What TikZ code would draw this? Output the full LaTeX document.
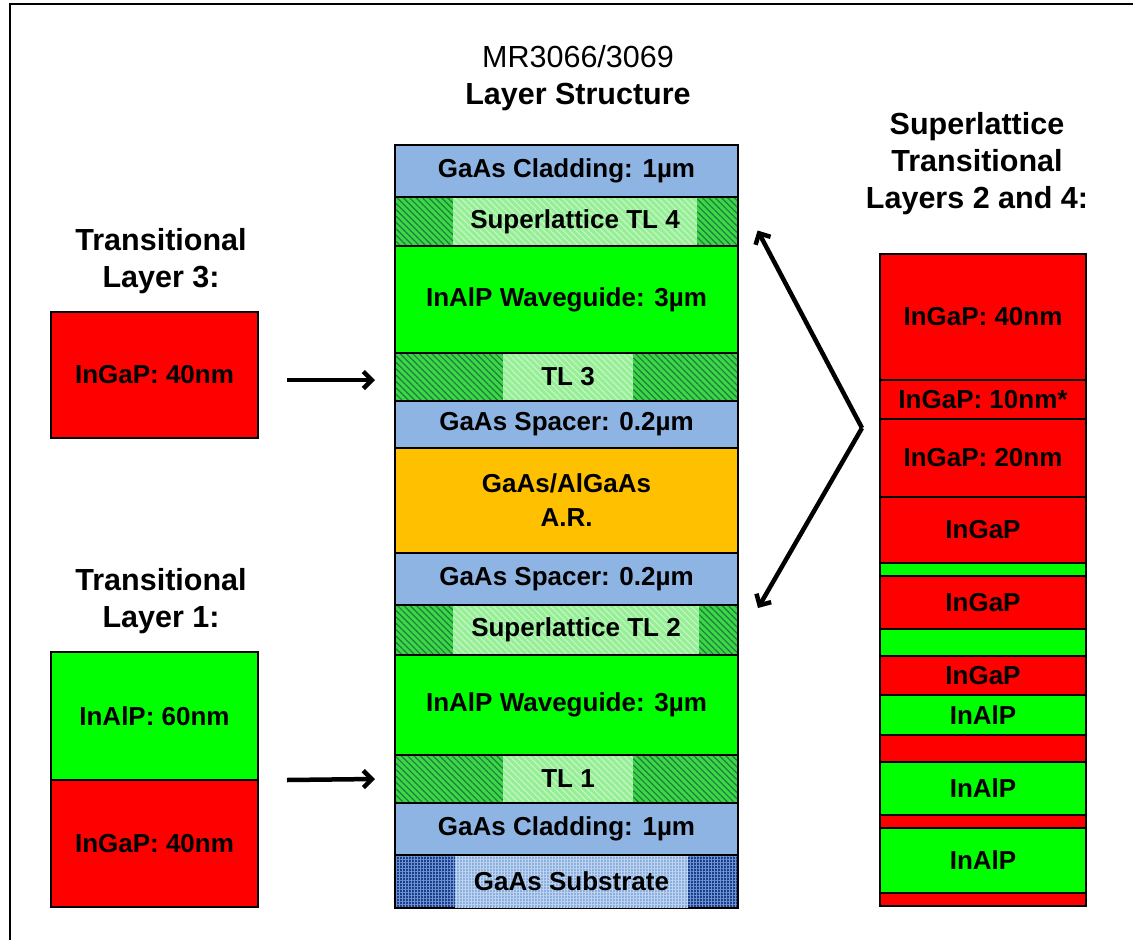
\documentclass[tikz,border=0pt]{standalone}
\usepackage{fontspec}
\setmainfont{Liberation Sans}
\usetikzlibrary{arrows.meta,patterns.meta}

\definecolor{gaasblue}{RGB}{141,180,226}
\definecolor{ingap}{RGB}{255,0,0}
\definecolor{inalp}{RGB}{0,255,0}
\definecolor{argold}{RGB}{255,192,0}
\definecolor{tlgreen}{RGB}{60,215,70}
\definecolor{tldark}{RGB}{30,125,60}
\definecolor{tllight}{RGB}{150,238,150}
\definecolor{tlline}{RGB}{195,248,195}
\definecolor{subdark}{RGB}{30,62,140}
\definecolor{subgrid}{RGB}{110,150,212}
\definecolor{sublight}{RGB}{140,176,222}
\definecolor{subline}{RGB}{190,212,240}

\newcommand{\lbl}{\bfseries\fontsize{26}{34}\selectfont}
\newcommand{\ttl}{\fontsize{30.5}{37}\selectfont}

\tikzset{
  >={Straight Barb[angle=90:12pt]},
  arr/.style = {->, line width=4.5pt},
  layer/.style = {draw, line width=2pt, minimum width=343pt, inner sep=0pt,
                  align=center, font=\lbl},
  slayer/.style = {layer, minimum width=206pt},
  gaas/.style = {fill=gaasblue},
  red/.style = {fill=ingap},
  grn/.style = {fill=inalp},
  hatch/.style = {preaction={fill=tlgreen},
                  pattern={Lines[angle=-45,distance=4.5pt,line width=1.2pt]},
                  pattern color=tldark},
  hatchin/.style = {inner sep=0pt, font=\lbl, preaction={fill=tllight},
                    pattern={Lines[angle=-45,distance=4.5pt,line width=1.2pt]},
                    pattern color=tlline},
  grid/.style = {preaction={fill=subdark},
                 pattern={Hatch[distance=3pt,line width=0.9pt]},
                 pattern color=subgrid},
  gridin/.style = {inner sep=0pt, font=\lbl, preaction={fill=sublight},
                   pattern={Hatch[distance=3pt,line width=0.9pt]},
                   pattern color=subline},
  title/.style = {align=center, font=\ttl}
}

\begin{document}
\begin{tikzpicture}[x=1pt,y=-1pt]
  \useasboundingbox (0,0) rectangle (1133,940);
  \draw[line width=2pt] (10,940) -- (10,4) -- (1133,4);

  % titles
  \node[title] (ttlmid) at (578,78) {MR3066/3069\\\bfseries Layer Structure};
  \node[title,font=\ttl\bfseries] (ttlsl) at (977,164) {Superlattice\\Transitional\\Layers 2 and 4:};
  \node[title,font=\ttl\bfseries] (ttl3) at (161,261) {Transitional\\Layer 3:};
  \node[title,font=\ttl\bfseries] (ttl1) at (161,601) {Transitional\\Layer 1:};

  % layer stack
  \node[layer,gaas,minimum height=52pt]  (clad2) at (566.5,171)   {GaAs Cladding: 1µm};
  \node[layer,hatch,minimum height=49pt] (tl4)   at (566.5,221.5) {};
  \node[hatchin,minimum width=244pt,minimum height=47pt] (tl4c) at ([xshift=8.5pt]tl4.center) {Superlattice TL 4};
  \node[layer,grn,minimum height=107pt]  (wg2)   at (566.5,299.5) {InAlP Waveguide: 3µm};
  \node[layer,hatch,minimum height=48pt] (tl3)   at (566.5,377)   {};
  \node[hatchin,minimum width=130pt,minimum height=46pt] (tl3c) at ([xshift=1.5pt]tl3.center) {TL 3};
  \node[layer,gaas,minimum height=47pt]  (sp2)   at (566.5,424.5) {GaAs Spacer: 0.2µm};
  \node[layer,fill=argold,minimum height=105pt] (ar) at (566.5,500.5) {GaAs/AlGaAs\\A.R.};
  \node[layer,gaas,minimum height=52pt]  (sp1)   at (566.5,579)   {GaAs Spacer: 0.2µm};
  \node[layer,hatch,minimum height=50pt] (tl2)   at (566.5,630)   {};
  \node[hatchin,minimum width=246pt,minimum height=48pt] (tl2c) at ([xshift=9.5pt]tl2.center) {Superlattice TL 2};
  \node[layer,grn,minimum height=100pt]  (wg1)   at (566.5,705)   {InAlP Waveguide: 3µm};
  \node[layer,hatch,minimum height=48pt] (tl1)   at (566.5,779)   {};
  \node[hatchin,minimum width=130pt,minimum height=46pt] (tl1c) at ([xshift=1.5pt]tl1.center) {TL 1};
  \node[layer,gaas,minimum height=52pt]  (clad1) at (566.5,829)   {GaAs Cladding: 1µm};
  \node[layer,grid,minimum height=53pt]  (sub)   at (566.5,881.5) {};
  \node[gridin,minimum width=233pt,minimum height=51pt] (subc) at ([xshift=5pt]sub.center) {GaAs Substrate};

  % transitional layers 3 and 1
  \node[layer,red,minimum width=207pt,minimum height=126pt] (l3)  at (154.5,375)   {InGaP: 40nm};
  \node[layer,grn,minimum width=207pt,minimum height=128pt] (l1a) at (154.5,716)   {InAlP: 60nm};
  \node[layer,red,minimum width=207pt,minimum height=127pt] (l1b) at (154.5,843.5) {InGaP: 40nm};

  % superlattice
  \node[slayer,red,minimum height=126pt] (s1)  at (983,317)   {InGaP: 40nm};
  \node[slayer,red,minimum height=39pt]  (s2)  at (983,399.5) {InGaP: 10nm*};
  \node[slayer,red,minimum height=78pt]  (s3)  at (983,458)   {InGaP: 20nm};
  \node[slayer,red,minimum height=66pt]  (s4)  at (983,530)   {InGaP};
  \node[slayer,grn,minimum height=13pt]  (s5)  at (983,569.5) {};
  \node[slayer,red,minimum height=53pt]  (s6)  at (983,602.5) {InGaP};
  \node[slayer,grn,minimum height=27pt]  (s7)  at (983,642.5) {};
  \node[slayer,red,minimum height=39pt]  (s8)  at (983,675.5) {InGaP};
  \node[slayer,grn,minimum height=40pt]  (s9)  at (983,715)   {InAlP};
  \node[slayer,red,minimum height=27pt]  (s10) at (983,748.5) {};
  \node[slayer,grn,minimum height=53pt]  (s11) at (983,788.5) {InAlP};
  \node[slayer,red,minimum height=13pt]  (s12) at (983,821.5) {};
  \node[slayer,grn,minimum height=65pt]  (s13) at (983,860.5) {InAlP};
  \node[slayer,red,minimum height=13pt]  (s14) at (983,899.5) {};

  % arrows
  \draw[arr] ([shift={(28,5)}]l3.east) -- ([shift={(-19,3)}]tl3.west);
  \draw[arr] ([shift={(28,-1)}]l1a.south east) -- ([xshift=-19pt]tl1.west);
  \coordinate (fork) at (862,428);
  \draw[arr] (fork) -- ([shift={(19,9)}]tl4.east);
  \draw[arr] (fork) -- ([shift={(19,-22)}]tl2.east);
\end{tikzpicture}
\end{document}
